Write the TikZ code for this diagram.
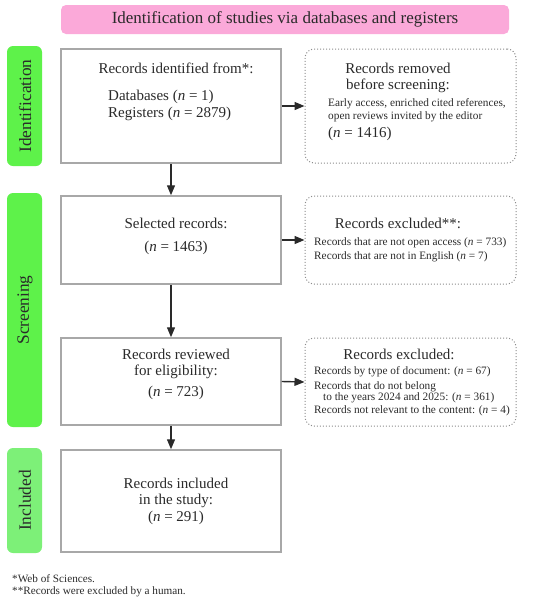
\documentclass[tikz,border=0pt]{standalone}
\usepackage{fontspec}
\setmainfont{Liberation Serif}
\usetikzlibrary{arrows.meta,shadows}
\definecolor{hdrpink}{HTML}{FBA9D9}
\definecolor{greenA}{HTML}{5EF24A}
\definecolor{greenB}{HTML}{7DF078}
\definecolor{txt}{HTML}{2A2A2A}
\definecolor{bordergray}{HTML}{A8A8A8}
\definecolor{dotgray}{HTML}{8C8C8C}
\begin{document}
\begin{tikzpicture}[x=1pt,y=-1pt,
  every node/.style={text=txt, inner sep=0pt},
  mainbox/.style={draw=bordergray, line width=1.5pt, fill=white, minimum width=220pt,
    drop shadow={shadow xshift=0.8pt, shadow yshift=-0.8pt, opacity=0.25}},
  sidebox/.style={draw=dotgray, line width=1pt, dotted, rounded corners=9pt, minimum width=211pt},
  phase/.style={fill=#1, rounded corners=6pt, minimum width=35pt},
  big/.style={font=\fontsize{15}{17}\selectfont},
  small/.style={font=\fontsize{11.3}{13}\selectfont},
  foot/.style={font=\fontsize{11.2}{13}\selectfont},
  lab/.style={rotate=90, font=\fontsize{17.3}{19}\selectfont},
  arr/.style={-{Triangle[length=10pt,width=8pt]}, line width=1.4pt, draw=txt}
]
\useasboundingbox (0,0) rectangle (550,603);

% header
\node[fill=hdrpink, rounded corners=5pt, minimum width=448pt, minimum height=29pt] (hdr) at (285,19.5) {};
\node[font=\fontsize{17}{19}\selectfont] (hdrt) at (285,19.5) {Identification of studies via databases and registers};

% phase labels
\node[phase=greenA, minimum height=120pt] (ph1) at (24.5,106) {};
\node[lab] (ph1t) at (25,106) {Identification};
\node[phase=greenA, minimum height=234pt] (ph2) at (24.5,310) {};
\node[lab] (ph2t) at (25,310) {Screening};
\node[phase=greenB, minimum height=105pt] (ph3) at (24.5,500.5) {};
\node[lab] (ph3t) at (25,500.5) {Included};

% main boxes
\node[mainbox, minimum height=114pt] (b1) at (171,106) {};
\node[mainbox, minimum height=88pt] (b2) at (171,240) {};
\node[mainbox, minimum height=87pt] (b3) at (171,381.5) {};
\node[mainbox, minimum height=102pt] (b4) at (171,501) {};

% side boxes
\node[sidebox, minimum height=114pt] (r1) at (410.5,106) {};
\node[sidebox, minimum height=88pt] (r2) at (410.5,240) {};
\node[sidebox, minimum height=88pt] (r3) at (410.5,382) {};

% texts box1
\node[big] (t1a) at (176,68) {Records identified from*:};
\node[big, anchor=west] (t1b) at (108,97) {Databases (\textit{n} = 1)};
\node[big, anchor=west] (t1c) at (108,114) {Registers (\textit{n} = 2879)};

% texts r1
\node[big] (s1a) at (398,68) {Records removed};
\node[big] (s1b) at (398,86) {before screening:};
\node[small, anchor=west] (s1c) at (328,104) {Early access, enriched cited references,};
\node[small, anchor=west] (s1d) at (328,117) {open reviews invited by the editor};
\node[big, anchor=west] (s1e) at (328,134) {(\textit{n} = 1416)};

% texts box2
\node[big] (t2a) at (176,223) {Selected records:};
\node[big] (t2b) at (176,248) {(\textit{n} = 1463)};

% texts r2
\node[big] (s2a) at (398,223) {Records excluded**:};
\node[small, anchor=west] (s2b) at (314,243) {Records that are not open access (\textit{n} = 733)};
\node[small, anchor=west] (s2c) at (314,257) {Records that are not in English (\textit{n} = 7)};

% texts box3
\node[big] (t3a) at (176,354) {Records reviewed};
\node[big] (t3b) at (176,372) {for eligibility:};
\node[big] (t3c) at (176,393) {(\textit{n} = 723)};

% texts r3
\node[big] (s3a) at (399,354) {Records excluded:};
\node[small, anchor=west] (s3b) at (314,372) {Records by type of document: (\textit{n} = 67)};
\node[small, anchor=west] (s3c) at (314,387) {Records that do not belong};
\node[small, anchor=west] (s3d) at (323,398) {to the years 2024 and 2025: (\textit{n} = 361)};
\node[small, anchor=west] (s3e) at (314,411) {Records not relevant to the content: (\textit{n} = 4)};

% texts box4
\node[big] (t4a) at (176,483) {Records included};
\node[big] (t4b) at (176,501) {in the study:};
\node[big] (t4c) at (176,518) {(\textit{n} = 291)};

% footnotes
\node[foot, anchor=west] (f1) at (12,579) {*Web of Sciences.};
\node[foot, anchor=west] (f2) at (12,592) {**Records were excluded by a human.};

% arrows
\draw[arr] (b1.south) -- (b2.north);
\draw[arr] (b2.south) -- (b3.north);
\draw[arr] (b3.south) -- (b4.north);
\draw[arr] (b1.east) -- (r1.west);
\draw[arr] (b2.east) -- (r2.west);
\draw[arr] (b3.east) -- (r3.west);
\end{tikzpicture}
\end{document}
